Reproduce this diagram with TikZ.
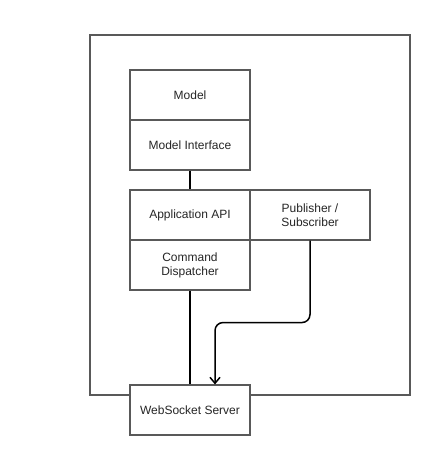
\documentclass[tikz,border=0pt]{standalone}
\usepackage{fontspec}
\setmainfont{Liberation Sans}
\usetikzlibrary{arrows.meta, positioning}

\begin{document}
\begin{tikzpicture}[x=1pt, y=-1pt,
    block/.style={draw=black!65, line width=1.1pt, fill=white, minimum width=120pt, minimum height=50pt, inner sep=0pt, align=center, font=\fontsize{12}{14}\selectfont, text=black!85},
    conn/.style={line width=1.5pt, black}]
    \useasboundingbox (0,0) rectangle (430,455);
    \draw[black!65, line width=1.1pt] (90,35) rectangle (410,395);

    \node[block] (model) at (190,95) {Model};
    \node[block] (iface) at (190,145) {Model Interface};
    \node[block] (appapi) at (190,215) {Application API};
    \node[block] (pubsub) at (310,215) {Publisher /\\Subscriber};
    \node[block] (dispatch) at (190,265) {Command\\Dispatcher};
    \node[block] (wsserver) at (190,410) {WebSocket Server};

    \draw[conn] (iface) -- (appapi);
    \draw[conn] (dispatch) -- (wsserver);
    \draw[conn, rounded corners=8pt, -{Straight Barb[length=6pt, width=10pt]}] 
        (pubsub.south) -- ++(0,82) -| ([xshift=25pt]wsserver.north);
\end{tikzpicture}
\end{document}
